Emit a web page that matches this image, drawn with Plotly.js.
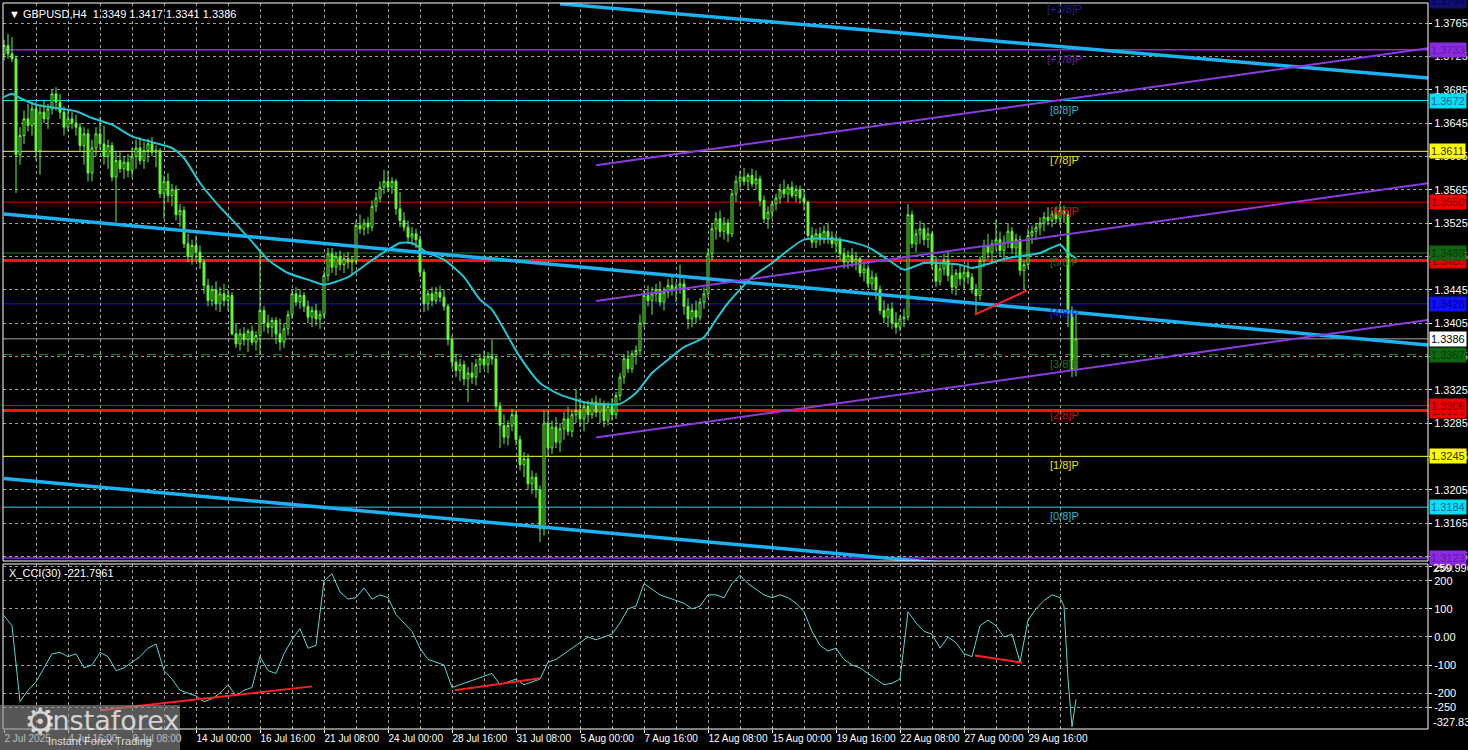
<!DOCTYPE html>
<html><head><meta charset="utf-8">
<script src="https://cdn.plot.ly/plotly-3.0.1.min.js"></script>
<style>html,body{margin:0;padding:0;background:#000;}#chart{width:1468px;height:750px;}</style>
</head><body><div id="chart"></div>
<script>
// ---------- DATA ----------
const open = [
1.3727,1.3738,1.3728,1.3722,1.3607,1.3630,1.3650,1.3642,1.3662,1.3612,
1.3658,1.3650,1.3662,1.3680,1.3670,1.3658,1.3640,1.3650,1.3645,1.3640,
1.3618,1.3632,1.3585,1.3615,1.3632,1.3620,1.3605,1.3618,1.3580,1.3600,
1.3590,1.3598,1.3588,1.3605,1.3615,1.3600,1.3612,1.3620,1.3610,1.3612,
1.3560,1.3575,1.3558,1.3565,1.3535,1.3540,1.3500,1.3485,1.3498,1.3490,
1.3478,1.3450,1.3432,1.3445,1.3428,1.3440,1.3432,1.3438,1.3392,1.3380,
1.3392,1.3385,1.3395,1.3382,1.3390,1.3420,1.3405,1.3400,1.3408,1.3392,
1.3382,1.3398,1.3415,1.3440,1.3430,1.3438,1.3425,1.3412,1.3420,1.3410,
1.3415,1.3462,1.3488,1.3472,1.3485,1.3475,1.3482,1.3478,1.3480,1.3522,
1.3518,1.3525,1.3520,1.3545,1.3555,1.3568,1.3575,1.3568,1.3575,1.3542,
1.3528,1.3520,1.3508,1.3512,1.3505,1.3466,1.3428,1.3440,1.3432,1.3442,
1.3436,1.3425,1.3385,1.3358,1.3348,1.3355,1.3338,1.3345,1.3340,1.3355,
1.3362,1.3355,1.3365,1.3362,1.3305,1.3282,1.3268,1.3282,1.3295,1.3265,
1.3235,1.3242,1.3212,1.3220,1.3205,1.3158,1.3285,1.3255,1.3280,1.3262,
1.3278,1.3290,1.3275,1.3295,1.3300,1.3290,1.3305,1.3295,1.3310,1.3298,
1.3308,1.3288,1.3305,1.3295,1.3318,1.3340,1.3362,1.3350,1.3368,1.3372,
1.3405,1.3438,1.3432,1.3440,1.3445,1.3430,1.3442,1.3450,1.3445,1.3448,
1.3452,1.3425,1.3410,1.3420,1.3412,1.3430,1.3440,1.3488,1.3518,1.3530,
1.3515,1.3525,1.3512,1.3560,1.3575,1.3580,1.3575,1.3582,1.3572,1.3578,
1.3552,1.3530,1.3538,1.3548,1.3555,1.3565,1.3560,1.3568,1.3558,1.3565,
1.3555,1.3550,1.3510,1.3502,1.3512,1.3505,1.3515,1.3508,1.3500,1.3505,
1.3488,1.3478,1.3486,1.3478,1.3482,1.3465,1.3470,1.3452,1.3460,1.3445,
1.3420,1.3412,1.3422,1.3405,1.3400,1.3410,1.3412,1.3535,1.3500,1.3512,
1.3518,1.3505,1.3512,1.3475,1.3455,1.3470,1.3480,1.3462,1.3448,1.3465,
1.3458,1.3466,1.3460,1.3445,1.3438,1.3480,1.3498,1.3490,1.3500,1.3505,
1.3492,1.3502,1.3515,1.3495,1.3505,1.3468,1.3475,1.3510,1.3515,1.3520,
1.3525,1.3532,1.3528,1.3536,1.3530,1.3540,1.3535,1.3420,1.3349];
const high = [
1.3745,1.3752,1.3748,1.3726,1.3640,1.3660,1.3668,1.3670,1.3670,1.3665,
1.3672,1.3668,1.3685,1.3688,1.3680,1.3665,1.3660,1.3658,1.3655,1.3645,
1.3640,1.3638,1.3625,1.3640,1.3652,1.3642,1.3625,1.3622,1.3610,1.3610,
1.3605,1.3608,1.3615,1.3625,1.3628,1.3622,1.3626,1.3628,1.3618,1.3615,
1.3582,1.3585,1.3572,1.3570,1.3548,1.3545,1.3512,1.3505,1.3510,1.3498,
1.3482,1.3458,1.3450,1.3455,1.3448,1.3452,1.3445,1.3442,1.3405,1.3398,
1.3400,1.3398,1.3402,1.3395,1.3490,1.3425,1.3415,1.3412,1.3412,1.3410,
1.3405,1.3420,1.3445,1.3448,1.3445,1.3442,1.3432,1.3425,1.3428,1.3420,
1.3468,1.3495,1.3495,1.3490,1.3492,1.3488,1.3490,1.3485,1.3528,1.3535,
1.3530,1.3532,1.3552,1.3562,1.3575,1.3589,1.3588,1.3580,1.3578,1.3562,
1.3538,1.3528,1.3520,1.3518,1.3510,1.3470,1.3445,1.3448,1.3448,1.3450,
1.3445,1.3428,1.3390,1.3368,1.3362,1.3360,1.3352,1.3358,1.3362,1.3368,
1.3372,1.3370,1.3385,1.3366,1.3310,1.3295,1.3288,1.3302,1.3300,1.3270,
1.3250,1.3248,1.3228,1.3225,1.3210,1.3300,1.3300,1.3288,1.3292,1.3285,
1.3298,1.3305,1.3300,1.3326,1.3315,1.3310,1.3312,1.3315,1.3318,1.3315,
1.3312,1.3310,1.3315,1.3322,1.3345,1.3368,1.3372,1.3372,1.3378,1.3415,
1.3445,1.3450,1.3448,1.3452,1.3455,1.3448,1.3458,1.3462,1.3455,1.3475,
1.3458,1.3435,1.3428,1.3432,1.3435,1.3448,1.3495,1.3525,1.3538,1.3540,
1.3532,1.3530,1.3565,1.3582,1.3588,1.3591,1.3585,1.3590,1.3588,1.3582,
1.3558,1.3545,1.3552,1.3560,1.3572,1.3577,1.3572,1.3575,1.3570,1.3570,
1.3565,1.3552,1.3520,1.3518,1.3520,1.3522,1.3525,1.3515,1.3512,1.3508,
1.3495,1.3492,1.3495,1.3490,1.3485,1.3478,1.3475,1.3468,1.3465,1.3450,
1.3432,1.3428,1.3430,1.3418,1.3415,1.3422,1.3548,1.3540,1.3518,1.3528,
1.3525,1.3520,1.3515,1.3485,1.3478,1.3488,1.3490,1.3475,1.3470,1.3475,
1.3472,1.3478,1.3465,1.3452,1.3485,1.3505,1.3512,1.3505,1.3529,1.3515,
1.3510,1.3525,1.3520,1.3512,1.3510,1.3480,1.3518,1.3522,1.3525,1.3532,
1.3538,1.3544,1.3540,1.3545,1.3548,1.3546,1.3540,1.3425,1.3417];
const low = [
1.3720,1.3722,1.3718,1.3561,1.3595,1.3620,1.3635,1.3630,1.3600,1.3583,
1.3645,1.3638,1.3655,1.3660,1.3650,1.3630,1.3635,1.3638,1.3630,1.3610,
1.3595,1.3575,1.3575,1.3605,1.3612,1.3595,1.3590,1.3575,1.3526,1.3585,
1.3578,1.3580,1.3580,1.3590,1.3595,1.3590,1.3598,1.3605,1.3592,1.3555,
1.3530,1.3550,1.3545,1.3528,1.3520,1.3495,1.3478,1.3475,1.3480,1.3470,
1.3440,1.3425,1.3425,1.3420,1.3418,1.3425,1.3420,1.3390,1.3375,1.3372,
1.3378,1.3370,1.3378,1.3372,1.3368,1.3395,1.3392,1.3388,1.3380,1.3372,
1.3375,1.3390,1.3410,1.3425,1.3422,1.3418,1.3405,1.3400,1.3402,1.3398,
1.3410,1.3455,1.3465,1.3462,1.3468,1.3465,1.3470,1.3462,1.3475,1.3512,
1.3510,1.3512,1.3515,1.3538,1.3550,1.3560,1.3562,1.3560,1.3535,1.3520,
1.3515,1.3500,1.3498,1.3495,1.3460,1.3418,1.3420,1.3425,1.3428,1.3430,
1.3420,1.3378,1.3350,1.3340,1.3335,1.3330,1.3310,1.3332,1.3330,1.3345,
1.3350,1.3345,1.3355,1.3300,1.3255,1.3260,1.3258,1.3275,1.3258,1.3228,
1.3220,1.3205,1.3200,1.3195,1.3142,1.3150,1.3245,1.3248,1.3255,1.3250,
1.3265,1.3270,1.3268,1.3285,1.3280,1.3275,1.3285,1.3290,1.3292,1.3285,
1.3280,1.3282,1.3288,1.3290,1.3312,1.3332,1.3345,1.3345,1.3355,1.3368,
1.3400,1.3425,1.3415,1.3430,1.3425,1.3420,1.3435,1.3438,1.3430,1.3440,
1.3415,1.3398,1.3400,1.3405,1.3408,1.3422,1.3435,1.3480,1.3505,1.3508,
1.3505,1.3502,1.3508,1.3550,1.3565,1.3570,1.3565,1.3568,1.3565,1.3545,
1.3525,1.3518,1.3530,1.3540,1.3548,1.3555,1.3550,1.3555,1.3550,1.3548,
1.3540,1.3505,1.3495,1.3495,1.3498,1.3500,1.3500,1.3495,1.3490,1.3480,
1.3470,1.3470,1.3472,1.3468,1.3460,1.3455,1.3448,1.3445,1.3433,1.3415,
1.3405,1.3400,1.3398,1.3392,1.3395,1.3400,1.3408,1.3495,1.3490,1.3500,
1.3498,1.3495,1.3470,1.3448,1.3450,1.3462,1.3455,1.3440,1.3438,1.3450,
1.3445,1.3452,1.3440,1.3415,1.3432,1.3472,1.3482,1.3478,1.3492,1.3485,
1.3482,1.3495,1.3488,1.3485,1.3462,1.3445,1.3470,1.3500,1.3505,1.3510,
1.3515,1.3522,1.3520,1.3525,1.3522,1.3525,1.3400,1.3340,1.3341];
const close = [
1.3738,1.3728,1.3722,1.3607,1.3630,1.3650,1.3642,1.3662,1.3612,1.3658,
1.3650,1.3662,1.3680,1.3670,1.3658,1.3640,1.3650,1.3645,1.3640,1.3618,
1.3632,1.3585,1.3615,1.3632,1.3620,1.3605,1.3618,1.3580,1.3600,1.3590,
1.3598,1.3588,1.3605,1.3615,1.3600,1.3612,1.3620,1.3610,1.3612,1.3560,
1.3575,1.3558,1.3565,1.3535,1.3540,1.3500,1.3485,1.3498,1.3490,1.3478,
1.3450,1.3432,1.3445,1.3428,1.3440,1.3432,1.3438,1.3392,1.3380,1.3392,
1.3385,1.3395,1.3382,1.3390,1.3420,1.3405,1.3400,1.3408,1.3392,1.3382,
1.3398,1.3415,1.3440,1.3430,1.3438,1.3425,1.3412,1.3420,1.3410,1.3415,
1.3462,1.3488,1.3472,1.3485,1.3475,1.3482,1.3478,1.3480,1.3522,1.3518,
1.3525,1.3520,1.3545,1.3555,1.3568,1.3575,1.3568,1.3575,1.3542,1.3528,
1.3520,1.3508,1.3512,1.3505,1.3466,1.3428,1.3440,1.3432,1.3442,1.3436,
1.3425,1.3385,1.3358,1.3348,1.3355,1.3338,1.3345,1.3340,1.3355,1.3362,
1.3355,1.3365,1.3362,1.3305,1.3282,1.3268,1.3282,1.3295,1.3265,1.3235,
1.3242,1.3212,1.3220,1.3205,1.3158,1.3285,1.3255,1.3280,1.3262,1.3278,
1.3290,1.3275,1.3295,1.3300,1.3290,1.3305,1.3295,1.3310,1.3298,1.3308,
1.3288,1.3305,1.3295,1.3318,1.3340,1.3362,1.3350,1.3368,1.3372,1.3405,
1.3438,1.3432,1.3440,1.3445,1.3430,1.3442,1.3450,1.3445,1.3448,1.3452,
1.3425,1.3410,1.3420,1.3412,1.3430,1.3440,1.3488,1.3518,1.3530,1.3515,
1.3525,1.3512,1.3560,1.3575,1.3580,1.3575,1.3582,1.3572,1.3578,1.3552,
1.3530,1.3538,1.3548,1.3555,1.3565,1.3560,1.3568,1.3558,1.3565,1.3555,
1.3550,1.3510,1.3502,1.3512,1.3505,1.3515,1.3508,1.3500,1.3505,1.3488,
1.3478,1.3486,1.3478,1.3482,1.3465,1.3470,1.3452,1.3460,1.3445,1.3420,
1.3412,1.3422,1.3405,1.3400,1.3410,1.3412,1.3535,1.3500,1.3512,1.3518,
1.3505,1.3512,1.3475,1.3455,1.3470,1.3480,1.3462,1.3448,1.3465,1.3458,
1.3466,1.3460,1.3445,1.3438,1.3480,1.3498,1.3490,1.3500,1.3505,1.3492,
1.3502,1.3515,1.3495,1.3505,1.3468,1.3475,1.3510,1.3515,1.3520,1.3525,
1.3532,1.3528,1.3536,1.3530,1.3540,1.3535,1.3420,1.3349,1.3386];

// moving average, bar index / value
const maBars = [0,2,4,8,13,18,22,27,32,37,42,45,49,54,57,61,66,71,76,80,86,91,96,99,102,106,110,115,119,122,129,134,139,146,154,158,162,166,170,175,178,181,187,192,200,209,216,221,225,230,239,242,251,259,264,266,268];
const maValues = [1.3676,1.3680,1.3675,1.3667,1.3663,1.3659,1.3651,1.3643,1.3629,1.3622,1.3615,1.3603,1.3573,1.3544,1.3529,1.3508,1.3481,1.3465,1.3457,1.3451,1.3460,1.3477,1.3493,1.3501,1.3501,1.3489,1.3481,1.3460,1.3433,1.3421,1.3364,1.3333,1.3319,1.3309,1.3308,1.3321,1.3345,1.3361,1.3376,1.3388,1.3409,1.3429,1.3460,1.3477,1.3505,1.3505,1.3496,1.3481,1.3469,1.3477,1.3475,1.3471,1.3483,1.3489,1.3499,1.3489,1.3483];

// CCI(30)
const cciBars = [0,2,4,6,8,10,12,14,16,18,20,22,24,26,28,30,32,34,36,38,40,42,44,46,48,50,52,54,56,58,60,62,64,66,68,70,72,74,76,78,80,82,84,86,88,90,92,94,96,98,100,102,104,106,108,110,112,114,116,118,120,122,124,126,128,130,132,134,136,138,140,142,144,146,148,150,152,154,156,158,160,162,164,166,168,170,172,174,176,178,180,182,184,186,188,190,192,194,196,198,200,202,204,206,208,210,212,214,216,218,220,222,224,226,228,230,232,234,236,238,240,242,244,246,248,250,252,254,256,258,260,262,264,265,266,267,268];
const cciValues = [76,40,-230,-190,-160,-110,-60,-55,-70,-60,-110,-100,-55,-70,-120,-110,-90,-70,-40,-25,-120,-150,-190,-200,-210,-230,-220,-200,-170,-210,-190,-180,-70,-120,-130,-60,-10,30,-40,-30,200,225,160,135,140,175,135,150,140,80,50,20,-40,-80,-90,-100,-180,-170,-160,-150,-140,-130,-170,-160,-150,-170,-160,-150,-90,-80,-60,-40,-20,0,-10,0,10,50,100,110,190,170,150,140,130,120,100,110,150,150,140,190,220,190,170,150,140,150,140,120,90,20,-30,-50,-40,-80,-100,-110,-130,-150,-170,-165,-150,90,50,20,10,-40,0,-20,-60,-70,40,60,40,0,10,-90,60,100,130,150,140,110,-150,-320,-222];

// Murrey levels
const levelValues = [1.3794,1.3733,1.3672,1.3611,1.3550,1.3489,1.3428,1.3367,1.3306,1.3245,1.3184,1.3123];
const levelNames  = ['[+2/8]P','[+1/8]P','[8/8]P','[7/8]P','[6/8]P','[5/8]P','[4/8]P','[3/8]P','[2/8]P','[1/8]P','[0/8]P','[-1/8]P'];
// other horizontal lines
const supportLevels = [1.3480,1.3300];
const lastPrice = 1.3386;

// trend lines: start bar, start price, end bar, end price
const trendStartBar   = [139,0,0,148,148,148];
const trendStartPrice = [1.3788,1.35358,1.32183,1.35942,1.34315,1.32675];
const trendEndBar     = [356,356,356,356,356,356];
const trendEndPrice   = [1.3699,1.33786,1.30644,1.37346,1.35728,1.34087];
// divergence lines
const divPriceBars = [242.75,255.7], divPriceVals = [1.3415,1.3444];
const divCciStartBar = [24,112.75,242.75], divCciStartVal = [-261,-190,-66];
const divCciEndBar   = [77,134,254.5],     divCciEndVal   = [-176,-147,-91];

// axis ticks
const priceTicks = [1.3765,1.3725,1.3685,1.3645,1.3605,1.3565,1.3525,1.3485,1.3445,1.3405,1.3365,1.3325,1.3285,1.3245,1.3205,1.3165,1.3125];
const cciTicks = [250,200,100,0,-100,-200,-250];
const cciTickText = ['250','200','100','0.00','-100','-200','-250'];
const cciMax = 259.9969, cciMin = -327.832;
const timeTickBars = [0,16,32,48,64,80,96,112,128,144,160,176,192,208,224,240,256];
const timeTickText = ['2 Jul 2025','4 Jul 16:00','9 Jul 08:00','14 Jul 00:00','16 Jul 16:00','21 Jul 08:00','24 Jul 00:00','28 Jul 16:00','31 Jul 08:00','5 Aug 00:00','7 Aug 16:00','12 Aug 08:00','15 Aug 00:00','19 Aug 16:00','22 Aug 08:00','27 Aug 00:00','29 Aug 16:00'];
const symbolTitle = 'GBPUSD,H4';
const cciTitle = 'X_CCI(30) -221.7961';

// ---------- STYLE ----------
const FONT = 'Liberation Sans, Arial, sans-serif';
const levelColors = ['#101070','#8a2be2','#00e0f0','#ffff00','#e00000','#1f7a1f','#1010ff','#2a8a2a','#e00000','#ffff00','#00e0f0','#8a2be2'];
const levelTextColors = ['#202090','#6a1fb0','#2ab8c8','#e6e600','#d01010','#2a6a2a','#1a1ae0','#2a6a2a','#d01010','#e6e600','#2ab8c8','#6a1fb0'];
const boxBgColors = ['#101070','#8a2be2','#00e0f0','#ffff00','#ee0000','#116611','#1010ff','#116611','#ee0000','#ffff00','#00e0f0','#8a2be2'];
const boxTextColors = ['#000050','#5a1aa0','#1060a0','#303000','#800000','#0a3a0a','#000090','#0a3a0a','#800000','#303000','#1060a0','#5a1aa0'];
const trendColors = ['#1cb2f2','#1cb2f2','#1cb2f2','#8a3ae0','#8a3ae0','#8a3ae0'];
const trendWidths = [3.5,3.5,3.5,2,2,2];
const GRID = 'rgba(200,200,200,0.8)';
const candleGreen = '#66f53a';

const xs = open.map((_, i) => i);
const yMain = [1.31194, 1.3789];
const mainDom = [0.2314, 1], cciDom = [0, 0.2273];

const traces = [
  {type:'candlestick', x:xs, open:open, high:high, low:low, close:close, xaxis:'x', yaxis:'y',
   increasing:{line:{color:candleGreen,width:1}, fillcolor:'#000000'},
   decreasing:{line:{color:candleGreen,width:1}, fillcolor:candleGreen},
   whiskerwidth:0, hoverinfo:'skip', showlegend:false},
  {type:'scatter', mode:'lines', x:maBars, y:maValues, xaxis:'x', yaxis:'y',
   line:{color:'#26c4d0', width:2, shape:'spline', smoothing:0.6}, hoverinfo:'skip', showlegend:false},
  {type:'scatter', mode:'lines', x:cciBars, y:cciValues, xaxis:'x', yaxis:'y2',
   line:{color:'#5ad8d2', width:1}, hoverinfo:'skip', showlegend:false}
];

const shapes = [];
levelValues.forEach((v, i) => {
  shapes.push({type:'line', xref:'paper', yref:'y', x0:0, x1:1, y0:v, y1:v,
    line:{color:levelColors[i], width:(i===11||i===1)?1.5:1, dash:(i===7)?'dash':'solid'}, layer:'below'});
});
supportLevels.forEach(v => {
  shapes.push({type:'line', xref:'paper', yref:'y', x0:0, x1:1, y0:v, y1:v, line:{color:'#ff1010', width:3}, layer:'below'});
});
shapes.push({type:'line', xref:'paper', yref:'y', x0:0, x1:1, y0:lastPrice, y1:lastPrice, line:{color:'#a8a8a8', width:1}, layer:'below'});
trendStartBar.forEach((b, i) => {
  shapes.push({type:'line', xref:'x', yref:'y', x0:b, y0:trendStartPrice[i], x1:trendEndBar[i], y1:trendEndPrice[i],
    line:{color:trendColors[i], width:trendWidths[i]}});
});
shapes.push({type:'line', xref:'x', yref:'y', x0:divPriceBars[0], y0:divPriceVals[0], x1:divPriceBars[1], y1:divPriceVals[1], line:{color:'#ff2020', width:2}});
divCciStartBar.forEach((b, i) => {
  shapes.push({type:'line', xref:'x', yref:'y2', x0:b, y0:divCciStartVal[i], x1:divCciEndBar[i], y1:divCciEndVal[i], line:{color:'#ff2020', width:2}});
});
shapes.push({type:'rect', xref:'paper', yref:'paper', x0:0, x1:1, y0:mainDom[0], y1:mainDom[1], line:{color:'#ffffff', width:1}, fillcolor:'rgba(0,0,0,0)'});
shapes.push({type:'rect', xref:'paper', yref:'paper', x0:0, x1:1, y0:cciDom[0], y1:cciDom[1], line:{color:'#ffffff', width:1}, fillcolor:'rgba(0,0,0,0)'});
shapes.push({type:'rect', xref:'paper', yref:'paper', x0:-0.003, x1:0.1242, y0:-0.03, y1:0.033, line:{width:0}, fillcolor:'rgba(140,140,140,0.62)', layer:'above'});

const ann = [];
levelValues.forEach((v, i) => {
  if (i === 11) return;
  const inside = v <= yMain[1];
  ann.push({xref:'x', yref:'y', x:265, y: inside ? v : yMain[1], yshift: inside ? -9 : -6,
    text:levelNames[i], showarrow:false, font:{family:FONT, size:11, color:levelTextColors[i]}});
});
function box(v, bg, fg){
  const inside = v <= yMain[1];
  ann.push({xref:'paper', yref:'y', x:1, xanchor:'left', xshift:1, y: inside ? v : yMain[1], yshift: inside ? 0 : 2,
    text:v.toFixed(4), showarrow:false, bgcolor:bg, borderpad:1,
    font:{family:FONT, size:11, color:fg}});
}
supportLevels.forEach(v => box(v, '#ee0000', '#800000'));
levelValues.forEach((v, i) => box(v, boxBgColors[i], boxTextColors[i]));
box(lastPrice, '#ffffff', '#000000');
ann.push({xref:'paper', yref:'paper', x:1, xanchor:'left', xshift:3, y:cciDom[1], yanchor:'middle', yshift:-4, text:cciMax.toFixed(4), showarrow:false, font:{family:FONT, size:11, color:'#ffffff'}});
ann.push({xref:'paper', yref:'paper', x:1, xanchor:'left', xshift:3, y:0, yanchor:'middle', yshift:7, text:cciMin.toFixed(3), showarrow:false, font:{family:FONT, size:11, color:'#ffffff'}});
ann.push({xref:'paper', yref:'paper', x:0, xanchor:'left', xshift:4, y:1, yanchor:'top', yshift:-3,
  text:'\u25BC\u00a0' + symbolTitle + '\u00a0\u00a0' + [open[open.length-1], high[high.length-1], low[low.length-1], close[close.length-1]].map(v=>v.toFixed(4)).join('\u00a0'),
  showarrow:false, font:{family:FONT, size:11, color:'#ffffff'}});
ann.push({xref:'paper', yref:'paper', x:0, xanchor:'left', xshift:4, y:cciDom[1], yanchor:'top', yshift:-1,
  text:cciTitle, showarrow:false, font:{family:FONT, size:11, color:'#ffffff'}});
ann.push({xref:'paper', yref:'paper', x:0.013, y:0.010, yanchor:'middle', text:'\u2699', showarrow:false, font:{family:'DejaVu Sans', size:36, color:'rgba(235,235,235,0.85)'}});
ann.push({xref:'paper', yref:'paper', x:0.028, xanchor:'left', y:0.012, yanchor:'middle', text:'instaforex', showarrow:false, font:{family:'DejaVu Sans', size:27, color:'rgba(235,235,235,0.85)'}});
ann.push({xref:'paper', yref:'paper', x:0.030, xanchor:'left', y:-0.017, yanchor:'middle', text:'Instant Forex Trading', showarrow:false, font:{family:FONT, size:11, color:'rgba(235,235,235,0.9)'}});

const layout = {
  width:1468, height:750,
  paper_bgcolor:'#000000', plot_bgcolor:'#000000',
  margin:{l:3, r:40, t:3, b:21, pad:0},
  showlegend:false,
  font:{family:FONT, size:11, color:'#ffffff'},
  xaxis:{domain:[0,1], anchor:'y2', range:[-0.25,356], rangeslider:{visible:false},
    tickmode:'array', tickvals:timeTickBars, ticktext:timeTickText, ticklabelposition:'outside right', tickangle:0,
    ticks:'outside', ticklen:3, tickcolor:'#ffffff', tickfont:{family:FONT, size:10, color:'#ffffff'},
    showgrid:true, gridcolor:GRID, griddash:'3px,3px', gridwidth:1,
    minor:{tickmode:'array', tickvals:timeTickBars.map(v=>v+8), showgrid:true, gridcolor:GRID, griddash:'3px,3px', ticks:''},
    showline:false, zeroline:false, fixedrange:true},
  yaxis:{domain:mainDom, anchor:'x', side:'right', range:yMain, tickmode:'array', tickvals:priceTicks,
    ticktext:priceTicks.map(v=>v.toFixed(4)), ticks:'outside', ticklen:3, tickcolor:'#ffffff',
    tickfont:{family:FONT, size:11, color:'#ffffff'},
    showgrid:true, gridcolor:GRID, griddash:'3px,3px', zeroline:false, showline:false},
  yaxis2:{domain:cciDom, anchor:'x', side:'right', range:[cciMin, cciMax], tickmode:'array', tickvals:cciTicks,
    ticktext:cciTickText, ticks:'outside', ticklen:3, tickcolor:'#ffffff',
    tickfont:{family:FONT, size:11, color:'#ffffff'},
    showgrid:true, gridcolor:GRID, griddash:'3px,3px', zeroline:false, showline:false},
  shapes:shapes,
  annotations:ann
};
Plotly.newPlot('chart', traces, layout, {displayModeBar:false, staticPlot:true});
</script>
</body></html>
